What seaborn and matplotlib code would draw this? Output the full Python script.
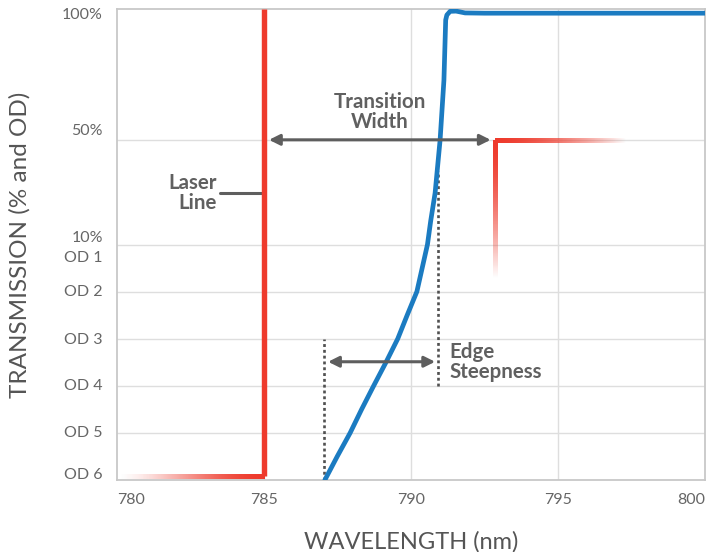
import numpy as np
import pandas as pd
import seaborn as sns
import matplotlib.pyplot as plt
import matplotlib.transforms as mtransforms
from matplotlib.collections import LineCollection
from matplotlib.colors import to_rgba

# edge filter curve: wavelength (nm) vs transmission (%)
edge_wl = [787.07, 787.49, 787.93, 788.32, 788.73, 789.15, 789.55, 789.87, 790.2,
           790.38, 790.56, 790.67, 790.82, 790.99, 791.12, 791.18, 791.22, 791.33,
           791.53, 791.84, 792.5, 800.0]
edge_T = [1e-4, 3.16e-4, 1e-3, 3.16e-3, 1e-2, 3.16e-2, 0.1, 0.316, 1.0,
          3.16, 10.0, 19.0, 29.7, 50.0, 72.8, 95.8, 97.7, 99.1,
          99.2, 98.5, 98.4, 98.4]

laser_wl = 785.0
laser_fade_wl = 780.0
floor_T = 1.2e-4
cutoff_wl = 792.85
cutoff_T = 50.0
cutoff_fade_wl = 797.3
cutoff_fade_T = 2.0

x_ticks = [780, 785, 790, 795, 800]
y_tick_values = [100, 50, 10, 10, 1, 0.1, 0.01, 1e-3, 1e-4]
y_tick_labels = ['100%', '50%', '10%', 'OD 1', 'OD 2', 'OD 3', 'OD 4', 'OD 5', 'OD 6']
y_grid = [50, 10, 1, 0.1, 0.01, 1e-3]

transition_wl = [785.17, 792.71]
transition_T = 50.0
steep_wl = [787.18, 790.82]
steep_T = 0.0324
steep_left_wl, steep_left_T = 787.05, [1e-4, 0.1]
steep_right_wl, steep_right_T = 790.93, [0.01, 38.0]
laser_label_wl = 783.52
laser_label_T = 29.5

RED = '#ee3a2c'
BLUE = '#1b7bc1'
GRAY = '#5e5e5e'
TXT = '#606060'


def fwd(t):
    # linear % above 10 %, log (OD) below
    t = np.maximum(np.asarray(t, dtype=float), 1e-12)
    return np.where(t >= 10, 5 + (t - 10) / 18.0, 6 + np.log10(t / 100))


def inv(p):
    p = np.asarray(p, dtype=float)
    return np.where(p >= 5, 10 + (p - 5) * 18.0, 100 * 10 ** (np.minimum(p, 5) - 6))


def fade(ax, x0, x1, t0, t1, a0, a1, lw, power=1.0, n=200):
    ps = np.linspace(fwd(t0), fwd(t1), n + 1)
    xs = np.linspace(x0, x1, n + 1)
    pts = np.column_stack([xs, inv(ps)])
    segs = np.stack([pts[:-1], pts[1:]], axis=1)
    s = np.linspace(0, 1, n)
    alpha = a0 + (a1 - a0) * s ** power
    lc = LineCollection(segs, colors=[to_rgba(RED, a) for a in alpha],
                        linewidths=lw, capstyle='butt', antialiaseds=False, zorder=3)
    ax.add_collection(lc)


sns.set_theme(style='white')
plt.rcParams['font.family'] = ['Lato', 'DejaVu Sans']

fig = plt.figure(figsize=(7.18, 5.52), dpi=100)
ax = fig.add_axes([117 / 718, 72 / 552, 588 / 718, 471 / 552])
ax.set_yscale('function', functions=(fwd, inv))
ax.set_xlim(780, 800)
ax.set_ylim(1e-4, 100)

for t in y_grid:
    ax.axhline(t, color='#dedede', lw=1, zorder=0)
for x in x_ticks[1:-1]:
    ax.axvline(x, color='#dedede', lw=1, zorder=0)

# blue edge
df = pd.DataFrame({'wl': edge_wl, 'T': edge_T})
sns.lineplot(data=df, x='wl', y='T', color=BLUE, lw=3.4, ax=ax, zorder=4,
             estimator=None, sort=False)
ax.lines[-1].set_solid_joinstyle('round')

# laser line
ax.plot([laser_wl, laser_wl], [floor_T, 100], color=RED, lw=3.9,
        solid_capstyle='butt', zorder=3)
fade(ax, laser_fade_wl, laser_wl, floor_T, floor_T, 0.0, 1.0, 3.6, power=1.6)

# fading cutoff corner
fade(ax, cutoff_wl, cutoff_fade_wl, cutoff_T, cutoff_T, 1.0, 0.0, 3.4, power=0.8)
fade(ax, cutoff_wl, cutoff_wl, cutoff_T, cutoff_fade_T, 1.0, 0.0, 3.4, power=0.8)

# annotations
arrow = dict(arrowstyle='<|-|>', color=GRAY, lw=2.2, mutation_scale=16,
             shrinkA=0, shrinkB=0)
ax.annotate('', xy=(transition_wl[0], transition_T),
            xytext=(transition_wl[1], transition_T), arrowprops=arrow, zorder=5)
ax.annotate('', xy=(steep_wl[0], steep_T), xytext=(steep_wl[1], steep_T),
            arrowprops=arrow, zorder=5)
ax.plot([steep_left_wl] * 2, steep_left_T, color='#505050', lw=1.9,
        dashes=(1.1, 1.1), zorder=2)
ax.plot([steep_right_wl] * 2, steep_right_T, color='#505050', lw=1.9,
        dashes=(1.1, 1.1), zorder=2)
ax.plot([laser_label_wl, laser_wl], [laser_label_T] * 2, color=GRAY, lw=2.2, zorder=2)

lab = dict(fontsize=14.8, fontweight='bold', color=TXT, linespacing=1.0)
ax.text(788.93, 60.5, 'Transition\nWidth', ha='center', va='center',
        multialignment='center', **lab)
ax.text(791.3, steep_T, 'Edge\nSteepness', ha='left', va='center',
        multialignment='left', **lab)
ax.text(783.39, laser_label_T, 'Laser\nLine', ha='right', va='center',
        multialignment='right', **lab)

# ticks
ax.set_xticks(x_ticks, [str(v) for v in x_ticks])
ax.tick_params(axis='x', length=0, pad=9, labelsize=11.5, labelcolor='#666666')
xl = ax.get_xticklabels()
xl[0].set_ha('left')
xl[-1].set_ha('right')
ax.set_yticks([])
y_offsets = [6, -9, -6, 14, 0, 1, 0, 0, -5]
for v, s, off in zip(y_tick_values, y_tick_labels, y_offsets):
    tr = ax.get_yaxis_transform() + mtransforms.ScaledTranslation(
        0, -off / 100, fig.dpi_scale_trans)
    ax.text(-0.024, v, s, transform=tr, ha='right', va='center',
            fontsize=11.5, color='#666666')

for sp in ax.spines.values():
    sp.set_color('#c8c8c8')
    sp.set_linewidth(1.3)

ax.set_xlabel('WAVELENGTH (nm)', fontsize=17, color='#555555')
ax.set_ylabel('TRANSMISSION (% and OD)', fontsize=17.5, color='#555555')
ax.xaxis.set_label_coords(0.5, -0.108)
ax.yaxis.set_label_coords(-0.147, 0.5)

fig.savefig('out.png', dpi=100)
